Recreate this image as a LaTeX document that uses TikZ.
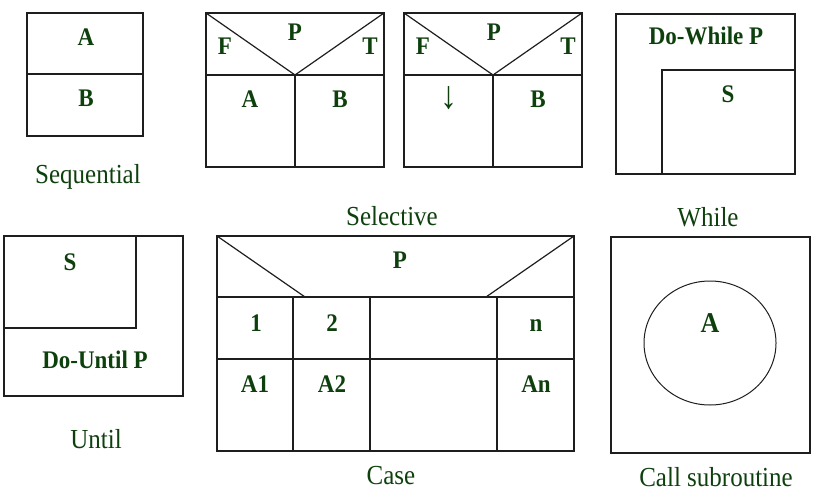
\documentclass[tikz,border=0pt]{standalone}
\usepackage{fontspec}
\setmainfont{Liberation Serif}
\definecolor{leaf}{RGB}{14,64,14}
\definecolor{ink}{RGB}{30,30,30}
\newcommand{\tallbox}[1]{\scalebox{1}[1.1]{#1}}
\tikzset{
  boxline/.style={draw=ink,line width=1.2pt},
  lbl/.style={anchor=base,inner sep=0pt,text=leaf,font=\fontsize{23}{26}\selectfont\bfseries},
  captext/.style={anchor=base,inner sep=0pt,text=leaf,font=\fontsize{25}{28}\selectfont}
}
\begin{document}
\begin{tikzpicture}[x=1pt,y=-1pt]
  \useasboundingbox (0,0) rectangle (826,497);

  % Sequential
  \draw[boxline] (27,13) rectangle (143,136);
  \draw[boxline] (27,74) -- (143,74);
  \node[lbl] (seqa) at (86,46) {\tallbox{A}};
  \node[lbl] (seqb) at (86,107) {\tallbox{B}};
  \node[captext] (seqcap) at (88,183) {\tallbox{Sequential}};

  % Selective
  \draw[boxline] (206,13) rectangle (384,167);
  \draw[boxline] (206,75) -- (384,75);
  \draw[boxline] (206,13) -- (295,75) -- (384,13);
  \draw[boxline] (295,75) -- (295,167);
  \node[lbl] (sonep) at (295,41) {\tallbox{P}};
  \node[lbl] (sonef) at (225,55) {\tallbox{F}};
  \node[lbl] (sonet) at (370,55) {\tallbox{T}};
  \node[lbl] (sonea) at (250,108) {\tallbox{A}};
  \node[lbl] (soneb) at (340,108) {\tallbox{B}};

  \draw[boxline] (404,13) rectangle (582,167);
  \draw[boxline] (404,75) -- (582,75);
  \draw[boxline] (404,13) -- (493,75) -- (582,13);
  \draw[boxline] (493,75) -- (493,167);
  \node[lbl] (stwop) at (494,41) {\tallbox{P}};
  \node[lbl] (stwof) at (423,55) {\tallbox{F}};
  \node[lbl] (stwot) at (568,55) {\tallbox{T}};
  \node[captext,font=\fontsize{34}{38}\selectfont] (stwoa) at (449,109) {\scalebox{1}[1.15]{↓}};
  \node[lbl] (stwob) at (538,108) {\tallbox{B}};
  \node[captext] (selcap) at (392,225) {\tallbox{Selective}};

  % While
  \draw[boxline] (616,14) rectangle (795,174);
  \draw[boxline] (662,174) -- (662,70) -- (795,70);
  \node[lbl] (whp) at (706,45) {\tallbox{Do-While P}};
  \node[lbl] (whs) at (728,103) {\tallbox{S}};
  \node[captext] (whcap) at (708,226) {\tallbox{While}};

  % Until
  \draw[boxline] (4,236) rectangle (183,396);
  \draw[boxline] (136,236) -- (136,328) -- (4,328);
  \node[lbl] (uns) at (70,270) {\tallbox{S}};
  \node[lbl] (unp) at (95,368) {\tallbox{Do-Until P}};
  \node[captext] (uncap) at (96,448) {\tallbox{Until}};

  % Case
  \draw[boxline] (217,236) rectangle (574,451);
  \draw[boxline] (217,297) -- (574,297);
  \draw[boxline] (217,359) -- (574,359);
  \draw[boxline] (217,236) -- (305,297);
  \draw[boxline] (574,236) -- (486,297);
  \draw[boxline,line width=1.8pt] (293,297) -- (293,451);
  \draw[boxline] (370,297) -- (370,451);
  \draw[boxline] (497,297) -- (497,451);
  \node[lbl] (casep) at (400,268) {\tallbox{P}};
  \node[lbl] (caseone) at (256,331) {\tallbox{1}};
  \node[lbl] (casetwo) at (332,331) {\tallbox{2}};
  \node[lbl] (casen) at (536,331) {\tallbox{n}};
  \node[lbl] (caseaone) at (255,392) {\tallbox{A1}};
  \node[lbl] (caseatwo) at (332,392) {\tallbox{A2}};
  \node[lbl] (casean) at (536,392) {\tallbox{An}};
  \node[captext] (casecap) at (391,484) {\tallbox{Case}};

  % Call subroutine
  \draw[boxline] (611,237) rectangle (810,453);
  \draw[boxline,line width=1pt] (710,343) ellipse [x radius=66,y radius=62];
  \node[lbl,font=\fontsize{26}{29}\selectfont\bfseries] (calla) at (710,332) {\tallbox{A}};
  \node[captext] (callcap) at (716,486) {\tallbox{Call subroutine}};
\end{tikzpicture}
\end{document}
